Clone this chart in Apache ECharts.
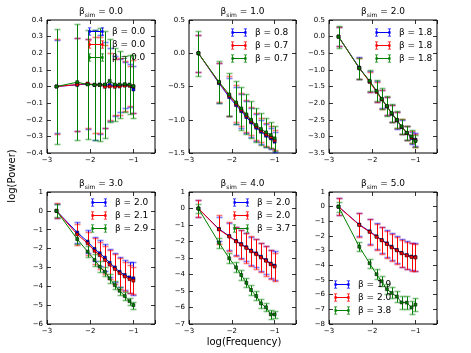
<!DOCTYPE html>
<html>
<head>
<meta charset="utf-8">
<script src="https://cdn.jsdelivr.net/npm/echarts@6/dist/echarts.min.js"></script>
<style>
  html, body { margin: 0; padding: 0; background: #fff; }
  #chart { width: 471px; height: 353px; }
</style>
</head>
<body>
<div id="chart"></div>
<script>
// x positions shared by every panel
const logFreq = [-2.78, -2.30, -2.06, -1.90, -1.78, -1.66, -1.55, -1.43, -1.32, -1.20, -1.09, -1.00];

const simBeta = ['0.0', '1.0', '2.0', '3.0', '4.0', '5.0'];
const fitBeta = [
  ['0.0', '0.0', '0.0'],
  ['0.8', '0.7', '0.7'],
  ['1.8', '1.8', '1.8'],
  ['2.0', '2.1', '2.9'],
  ['2.0', '2.0', '3.7'],
  ['1.9', '2.0', '3.8']
];

// panel 1, beta_sim = 0
const blue1 = [0, 0.01, 0.015, 0.01, 0.012, 0.01, 0.01, 0.005, 0.006, 0.01, 0.006, -0.018];
const red1 = [0, 0.012, 0.018, 0.01, 0.01, -0.002, 0.0, -0.002, 0.0, 0.005, 0.005, 0.0];
const green1 = [0, 0.026, 0.012, 0.01, 0.01, 0.012, 0.034, 0.012, 0.012, 0.014, 0.012, 0.002];
const blueErr1 = [0.28, 0.28, 0.27, 0.33, 0.3, 0.26, 0.22, 0.18, 0.16, 0.14, 0.13, 0.14];
const redErr1 = [0.285, 0.28, 0.27, 0.29, 0.29, 0.25, 0.2, 0.17, 0.17, 0.15, 0.12, 0.16];
const greenErr1 = [0.345, 0.35, 0.33, 0.33, 0.34, 0.32, 0.25, 0.22, 0.2, 0.17, 0.18, 0.19];

// panel 2, beta_sim = 1
const blue2 = [0, -0.45, -0.66, -0.78, -0.87, -0.96, -1.04, -1.12, -1.18, -1.24, -1.28, -1.33];
const red2 = [0, -0.44, -0.64, -0.76, -0.85, -0.94, -1.02, -1.1, -1.16, -1.22, -1.26, -1.31];
const green2 = [0, -0.43, -0.62, -0.74, -0.83, -0.92, -1.0, -1.08, -1.14, -1.19, -1.23, -1.28];
const blueErr2 = [0.28, 0.3, 0.29, 0.28, 0.26, 0.24, 0.22, 0.2, 0.18, 0.17, 0.16, 0.15];
const redErr2 = [0.28, 0.29, 0.3, 0.28, 0.25, 0.24, 0.21, 0.2, 0.18, 0.17, 0.16, 0.15];
const greenErr2 = [0.34, 0.32, 0.33, 0.33, 0.32, 0.3, 0.28, 0.26, 0.24, 0.22, 0.2, 0.19];

// panel 3, beta_sim = 2
const blue3 = [0, -0.93, -1.35, -1.65, -1.88, -2.1, -2.32, -2.52, -2.72, -2.9, -3.05, -3.1];
const red3 = [0, -0.95, -1.36, -1.66, -1.89, -2.1, -2.31, -2.51, -2.71, -2.9, -3.03, -3.12];
const green3 = [0, -0.95, -1.33, -1.63, -1.87, -2.09, -2.3, -2.5, -2.7, -2.89, -3.0, -3.14];
const blueErr3 = [0.28, 0.33, 0.31, 0.31, 0.28, 0.27, 0.26, 0.25, 0.22, 0.2, 0.18, 0.2];
const redErr3 = [0.28, 0.32, 0.3, 0.3, 0.28, 0.27, 0.25, 0.24, 0.22, 0.2, 0.18, 0.19];
const greenErr3 = [0.33, 0.32, 0.32, 0.32, 0.31, 0.29, 0.27, 0.25, 0.23, 0.21, 0.2, 0.19];

// panel 4, beta_sim = 3
const blue4 = [0, -1.15, -1.63, -2.02, -2.25, -2.48, -2.75, -3.0, -3.23, -3.4, -3.53, -3.58];
const red4 = [0, -1.25, -1.72, -2.12, -2.35, -2.6, -2.85, -3.08, -3.3, -3.48, -3.62, -3.7];
const green4 = [0, -1.5, -2.16, -2.6, -2.96, -3.23, -3.58, -3.94, -4.24, -4.52, -4.79, -5.0];
const blueErr4 = [0.38, 0.55, 0.6, 0.65, 0.7, 0.72, 0.75, 0.78, 0.8, 0.82, 0.84, 0.86];
const redErr4 = [0.4, 0.55, 0.62, 0.68, 0.72, 0.75, 0.78, 0.8, 0.82, 0.78, 0.74, 0.7];
const greenErr4 = [0.35, 0.28, 0.3, 0.3, 0.28, 0.25, 0.25, 0.22, 0.2, 0.2, 0.18, 0.18];

// panel 5, beta_sim = 4
const blue5 = [0, -1.24, -1.67, -1.97, -2.15, -2.35, -2.55, -2.72, -2.92, -3.12, -3.34, -3.46];
const red5 = [0, -1.27, -1.7, -2.0, -2.19, -2.39, -2.59, -2.77, -2.97, -3.17, -3.38, -3.52];
const green5 = [0, -2.07, -3.02, -3.57, -4.03, -4.5, -4.94, -5.3, -5.75, -5.99, -6.42, -6.42];
const blueErr5 = [0.5, 0.75, 0.82, 0.85, 0.85, 0.85, 0.85, 0.85, 0.85, 0.85, 0.85, 0.88];
const redErr5 = [0.5, 0.9, 0.9, 0.9, 0.9, 0.9, 0.9, 0.9, 0.9, 0.9, 0.88, 0.85];
const greenErr5 = [0.3, 0.3, 0.3, 0.3, 0.28, 0.28, 0.28, 0.27, 0.25, 0.25, 0.25, 0.22];

// panel 6, beta_sim = 5
const blue6 = [0, -1.22, -1.68, -2.02, -2.27, -2.5, -2.73, -2.95, -3.15, -3.3, -3.4, -3.44];
const red6 = [0, -1.25, -1.72, -2.06, -2.3, -2.55, -2.78, -2.98, -3.18, -3.33, -3.43, -3.47];
const green6 = [0, -2.73, -3.86, -4.61, -5.09, -5.63, -5.88, -6.13, -6.53, -6.54, -6.87, -6.68];
const blueErr6 = [0.6, 0.8, 0.85, 0.88, 0.9, 0.9, 0.92, 0.92, 0.93, 0.94, 0.95, 0.95];
const redErr6 = [0.6, 0.85, 0.88, 0.9, 0.92, 0.92, 0.93, 0.93, 0.94, 0.95, 0.95, 0.95];
const greenErr6 = [0.35, 0.3, 0.3, 0.33, 0.35, 0.35, 0.38, 0.4, 0.42, 0.45, 0.45, 0.45];

// y axis ranges per panel
const yMin = [-0.4, -1.5, -3.5, -6, -7, -8];
const yMax = [0.4, 0.5, 0.5, 1, 1, 1];
const yStep = [0.1, 0.5, 0.5, 1, 1, 1];

const values = [
  [blue1, red1, green1], [blue2, red2, green2], [blue3, red3, green3],
  [blue4, red4, green4], [blue5, red5, green5], [blue6, red6, green6]
];
const errors = [
  [blueErr1, redErr1, greenErr1], [blueErr2, redErr2, greenErr2], [blueErr3, redErr3, greenErr3],
  [blueErr4, redErr4, greenErr4], [blueErr5, redErr5, greenErr5], [blueErr6, redErr6, greenErr6]
];

const colors = ['#0000ff', '#ff0000', '#008000'];
const keys = ['b', 'r', 'g'];
const FONT = 'DejaVu Sans';

// layout
const gridLeft = [47, 189, 329];
const gridWidth = [108, 107, 108];
const gridTop = [20, 192];
const gridHeight = [133, 132];
const legendPos = [[88, 27], [231, 28], [375, 28], [91, 198], [233, 198], [334, 280]];

// errorbar legend handle: two capped bars joined by a line
const errIcon = 'path://M1,4.5h18v1h-18z M1.5,0.5h1v9h-1z M0,0h4v1h-4z M0,9h4v1h-4z ' +
  'M17.5,0.5h1v9h-1z M16,0h4v1h-4z M16,9h4v1h-4z M0.5,3.5h3v3h-3z M16.5,3.5h3v3h-3z';

function renderErr(params, api) {
  const x = api.value(0);
  const lo = api.coord([x, api.value(1)]);
  const hi = api.coord([x, api.value(2)]);
  const c = api.visual('color');
  const px = Math.round(hi[0]) + 0.5;   // snap to pixel so colours stay clean
  const yh = Math.round(hi[1]) + 0.5, yl = Math.round(lo[1]) + 0.5;
  const w = 3;
  return {
    type: 'group',
    children: [
      { type: 'line', shape: { x1: px, y1: yh, x2: px, y2: yl }, style: { stroke: c, lineWidth: 1 } },
      { type: 'line', shape: { x1: px - w, y1: yh, x2: px + w, y2: yh }, style: { stroke: c, lineWidth: 1.6, opacity: 0.5 } },
      { type: 'line', shape: { x1: px - w, y1: yl, x2: px + w, y2: yl }, style: { stroke: c, lineWidth: 1.6, opacity: 0.5 } }
    ]
  };
}

const fmt = (v, dec) => (dec ? v.toFixed(1) : String(Math.round(v))).replace('-', '\u2212');

const grid = [], xAxis = [], yAxis = [], series = [], legend = [], graphic = [];
const labelMap = {};

for (let p = 0; p < 6; p++) {
  const row = Math.floor(p / 3), col = p % 3;
  grid.push({
    left: gridLeft[col], top: gridTop[row], width: gridWidth[col], height: gridHeight[row],
    show: true, borderColor: '#000', borderWidth: 1, backgroundColor: '#fff'
  });
  const tick = { inside: true, length: 4, lineStyle: { color: '#000', width: 0.8 } };
  ['bottom', 'top'].forEach((pos, k) => xAxis.push({
    type: 'value', gridIndex: p, position: pos, min: -3, max: -0.5, interval: 1,
    axisLine: { show: false, onZero: false }, axisTick: tick, splitLine: { show: false },
    axisLabel: {
      show: k === 0, fontSize: 7, fontFamily: FONT, color: '#000', margin: 4,
      formatter: v => Number.isInteger(v) ? fmt(v, false) : ''
    }
  }));
  ['left', 'right'].forEach((pos, k) => yAxis.push({
    type: 'value', gridIndex: p, position: pos, min: yMin[p], max: yMax[p], interval: yStep[p],
    axisLine: { show: false, onZero: false }, axisTick: tick, splitLine: { show: false },
    axisLabel: {
      show: k === 0, fontSize: 7, fontFamily: FONT, color: '#000', margin: 4,
      showMinLabel: true, showMaxLabel: true,
      formatter: v => fmt(v, p < 3)
    }
  }));

  const names = [];
  for (let s = 0; s < 3; s++) {
    const ys = values[p][s], es = errors[p][s];
    const name = 'p' + p + keys[s];
    names.push(name);
    labelMap[name] = 'β = ' + fitBeta[p][s];
    series.push({
      type: 'custom', xAxisIndex: 2 * p, yAxisIndex: 2 * p, silent: true,
      itemStyle: { color: colors[s] },
      renderItem: renderErr,
      encode: { x: 0, y: [1, 2] },
      data: logFreq.map((x, i) => [x, ys[i] - es[i], ys[i] + es[i]])
    });
    series.push({
      name: name, type: 'line', xAxisIndex: 2 * p, yAxisIndex: 2 * p, silent: true,
      data: logFreq.map((x, i) => [x, ys[i]]),
      symbol: 'rect', symbolSize: 3, showSymbol: true,
      lineStyle: { color: colors[s], width: 1 },
      itemStyle: { color: colors[s], borderColor: '#000', borderWidth: 0.5 }
    });
  }

  legend.push({
    data: names, orient: 'vertical', left: legendPos[p][0], top: legendPos[p][1],
    padding: 0, itemWidth: 16, itemHeight: 8, itemGap: 4, icon: errIcon,
    itemStyle: { borderWidth: 0 }, selectedMode: false,
    textStyle: { fontSize: 9, fontFamily: FONT, color: '#000', padding: [0, 0, 0, 3] },
    formatter: n => labelMap[n]
  });

  graphic.push({
    type: 'text',
    x: gridLeft[col] + gridWidth[col] / 2,
    y: gridTop[row] - 2,
    style: {
      text: '{m|β}{s|sim}{m| = ' + simBeta[p] + '}',
      align: 'center', verticalAlign: 'bottom', fill: '#000',
      rich: {
        m: { fontSize: 9, fontFamily: FONT, lineHeight: 12, verticalAlign: 'middle' },
        s: { fontSize: 6, fontFamily: FONT, lineHeight: 12, verticalAlign: 'bottom', padding: [4, 0, 0, 0] }
      }
    }
  });
}

graphic.push({
  type: 'text', x: 12, y: 176, rotation: Math.PI / 2,
  style: { text: 'log(Power)', fontSize: 10, fontFamily: FONT, fill: '#000', align: 'center', verticalAlign: 'middle' }
});
graphic.push({
  type: 'text', x: 244, y: 342,
  style: { text: 'log(Frequency)', fontSize: 10, fontFamily: FONT, fill: '#000', align: 'center', verticalAlign: 'middle' }
});

const chart = echarts.init(document.getElementById('chart'));
chart.setOption({
  animation: false,
  backgroundColor: '#fff',
  grid: grid,
  xAxis: xAxis,
  yAxis: yAxis,
  legend: legend,
  graphic: graphic,
  series: series
});
</script>
</body>
</html>
